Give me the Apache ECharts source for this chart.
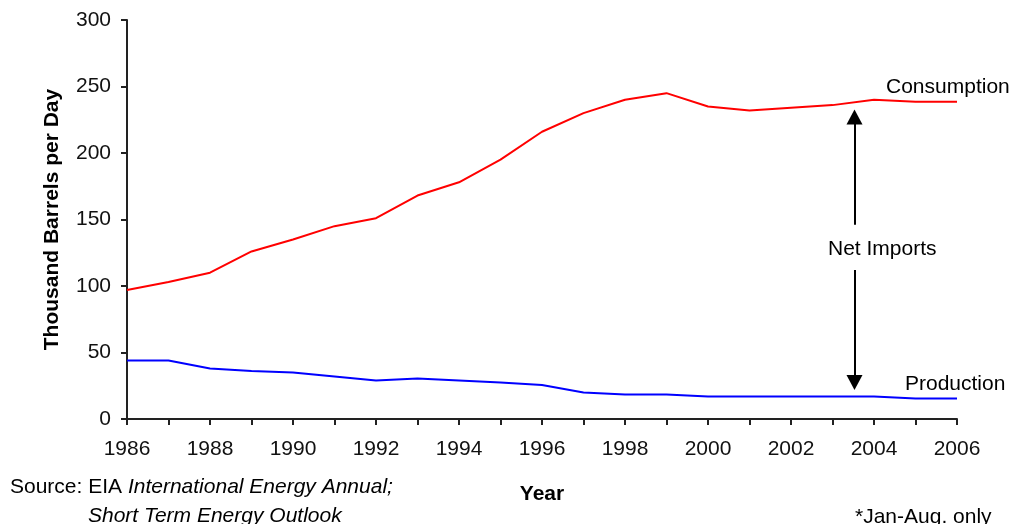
<!DOCTYPE html>
<html>
<head>
<meta charset="utf-8">
<script src="https://cdn.jsdelivr.net/npm/echarts@6/dist/echarts.min.js"></script>
<style>
  html, body { margin: 0; padding: 0; background: #fff; }
  #main { width: 1018px; height: 524px; }
</style>
</head>
<body>
<div id="main"></div>
<script>
  var years = [1986, 1987, 1988, 1989, 1990, 1991, 1992, 1993, 1994, 1995, 1996,
               1997, 1998, 1999, 2000, 2001, 2002, 2003, 2004, 2005, 2006];
  var consumption = [97, 103, 110, 126, 135, 145, 151, 168, 178, 195, 216,
                     230, 240, 245, 235, 232, 234, 236, 240, 238.5, 238.5];
  var production = [44, 44, 38, 36, 35, 32, 29, 30.5, 29, 27.5, 25.5,
                    20, 18.5, 18.5, 17, 17, 17, 17, 17, 15.5, 15.5];
  var yTicks = [0, 50, 100, 150, 200, 250, 300];

  function pairs(vals) {
    return years.map(function (y, i) { return [y, vals[i]]; });
  }

  var font = 'Liberation Sans, Arial, sans-serif';
  var arrowX = 2003.53;
  var myChart = echarts.init(document.getElementById('main'));
  myChart.setOption({
    animation: false,
    grid: { left: 127, right: 61, top: 20, bottom: 105 },
    xAxis: {
      type: 'value',
      min: 1986,
      max: 2006,
      interval: 2,
      name: 'Year',
      nameLocation: 'middle',
      nameGap: 65,
      nameTextStyle: { fontFamily: font, fontSize: 21, fontWeight: 'bold', color: '#000' },
      axisLine: { lineStyle: { color: '#222', width: 2 } },
      axisTick: { show: true, length: 6, lineStyle: { color: '#222', width: 2 } },
      minorTick: { show: true, splitNumber: 2, length: 6, lineStyle: { color: '#222', width: 2 } },
      splitLine: { show: false },
      axisLabel: {
        fontFamily: font, fontSize: 21, color: '#111', margin: 20,
        formatter: function (v) { return String(v); }
      }
    },
    yAxis: {
      type: 'value',
      min: 0,
      max: 300,
      interval: 50,
      name: 'Thousand Barrels per Day',
      nameLocation: 'middle',
      nameGap: 64,
      nameTextStyle: { fontFamily: font, fontSize: 21, fontWeight: 'bold', color: '#000' },
      axisLine: { show: true, lineStyle: { color: '#222', width: 2 } },
      axisTick: { show: true, length: 6, lineStyle: { color: '#222', width: 2 } },
      splitLine: { show: false },
      axisLabel: {
        fontFamily: font, fontSize: 21, color: '#111', margin: 16,
        formatter: function (v) { return yTicks.indexOf(v) >= 0 ? String(v) : ''; }
      }
    },
    series: [{
      name: 'Consumption',
      type: 'line',
      data: pairs(consumption),
      symbol: 'none',
      lineStyle: { color: '#ff0000', width: 2 },
      markLine: {
        silent: true,
        symbol: ['none', 'triangle'],
        symbolSize: [16, 15],
        lineStyle: { color: '#000', width: 2, type: 'solid' },
        label: { show: false },
        data: [
          [{ coord: [arrowX, 146] }, { coord: [arrowX, 227] }],
          [{ coord: [arrowX, 112] }, { coord: [arrowX, 27.5] }]
        ]
      }
    }, {
      name: 'Production',
      type: 'line',
      data: pairs(production),
      symbol: 'none',
      lineStyle: { color: '#0000ff', width: 2 }
    }],
    graphic: [
      { type: 'text', left: 886, top: 77, style: { text: 'Consumption', font: '21px ' + font, fill: '#000' } },
      { type: 'text', left: 905, top: 374, style: { text: 'Production', font: '21px ' + font, fill: '#000' } },
      { type: 'text', left: 828, top: 239, style: { text: 'Net Imports', font: '21px ' + font, fill: '#000' } },
      { type: 'text', left: 10, top: 477, style: {
          text: '{n|Source: EIA }{i|International Energy Annual;}',
          rich: {
            n: { font: '21px ' + font, fill: '#000' },
            i: { font: 'italic 21px ' + font, fill: '#000' }
          }
      } },
      { type: 'text', left: 88, top: 506, style: { text: 'Short Term Energy Outlook', font: 'italic 21px ' + font, fill: '#000' } },
      { type: 'text', left: 855, top: 507, style: { text: '*Jan-Aug. only', font: '21px ' + font, fill: '#000' } }
    ]
  });
</script>
</body>
</html>
